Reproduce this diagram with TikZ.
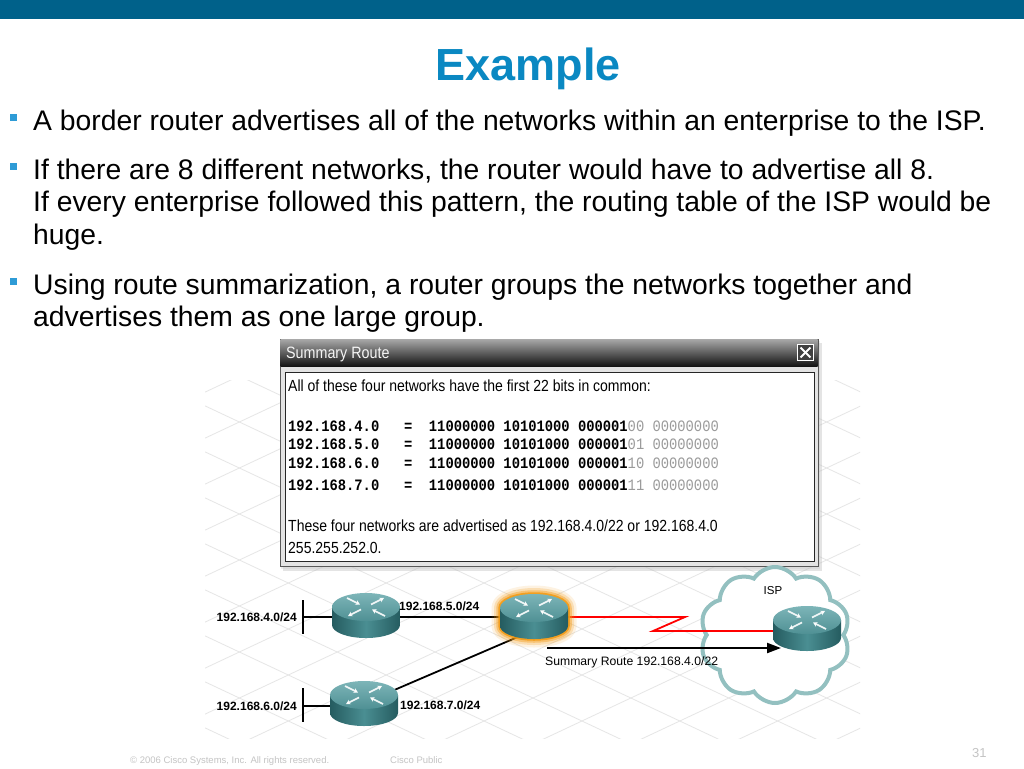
\documentclass[tikz,border=0pt]{standalone}
\usepackage{fontspec}
\setmainfont{Liberation Sans}
\newfontfamily\monof{Liberation Mono}
\usetikzlibrary{shapes.symbols,shadows,arrows.meta}
\definecolor{barblue}{HTML}{00618A}
\definecolor{titleblue}{HTML}{0A88C2}
\definecolor{bulletblue}{HTML}{2E9BD6}
\definecolor{rtopl}{HTML}{7DB5B8}
\definecolor{rtop}{HTML}{4F9094}
\definecolor{rside}{HTML}{4A8E92}
\definecolor{rdark}{HTML}{255C60}
\definecolor{cloudc}{HTML}{93C0C0}
\definecolor{gridc}{HTML}{E6E6E6}
\definecolor{bitgray}{HTML}{9A9A9A}
\definecolor{footgray}{HTML}{C4C4C4}
\definecolor{glow}{HTML}{F39A12}
\newcommand\dlg[1]{\scalebox{1}[1.15]{#1}}
\tikzset{
  bodytext/.style={anchor=base west, inner sep=0pt, text=black, font=\fontsize{28.3}{32}\selectfont},
  dtext/.style={anchor=base west, inner sep=0pt, font=\fontsize{14}{16}\selectfont},
  mtext/.style={anchor=base west, inner sep=0pt, font=\monof\bfseries\fontsize{13.8}{16}\selectfont},
  lab/.style={inner sep=0pt, font=\bfseries\fontsize{12}{14}\selectfont},
  foot/.style={anchor=base west, inner sep=0pt, text=footgray, font=\fontsize{9.5}{11}\selectfont},
  wire/.style={line width=1.8pt, black},
  rarrow/.style={white, opacity=0.9, line width=1.7pt, -{Stealth[length=4.5pt,width=5pt]}},
  routerbody/.pic={
    \path[left color=rdark, right color=rdark, middle color=rside]
      (-34,-8) -- (-34,10) arc[start angle=180,end angle=360,x radius=34pt,y radius=13pt] -- (34,-8) -- cycle;
    \path[top color=rtopl, bottom color=rtop] (0,-8) ellipse[x radius=34pt, y radius=14pt];
    \draw[rarrow] (-19,-17) -- (-6,-10.5);
    \draw[rarrow] (19,1) -- (6,-5.5);
    \draw[rarrow] (5,-10.5) -- (18,-17);
    \draw[rarrow] (-5,-5.5) -- (-18,1);
    \node[inner sep=0pt, minimum width=68pt, minimum height=45pt] (-n) at (0,0.5) {};
  },
  routerglow/.pic={
    \foreach \w/\o in {17/0.12, 12/0.22, 7.5/0.4, 3.5/0.85}{
      \draw[glow, line width=\w pt, opacity=\o, line join=round]
        (-34,-8) arc[start angle=180,end angle=0,x radius=34pt,y radius=14pt]
        -- (34,10) arc[start angle=0,end angle=-180,x radius=34pt,y radius=13pt] -- cycle;
    }
  }
}
\begin{document}
\begin{tikzpicture}[x=1pt,y=-1pt]
\useasboundingbox (0,0) rectangle (1024,768);
\fill[white] (0,0) rectangle (1024,768);
\fill[barblue] (0,0) rectangle (1024,19);

% title
\node[anchor=base, inner sep=0pt, text=titleblue, font=\bfseries\fontsize{45}{50}\selectfont] (title) at (528,80) {Example};

% bullets
\fill[bulletblue] (10,114) rectangle (17,121);
\fill[bulletblue] (10,163) rectangle (17,170);
\fill[bulletblue] (10,278) rectangle (17,285);
\node[bodytext] (b1) at (33,130) {A border router advertises all of the networks within an enterprise to the ISP.};
\node[bodytext] (b2a) at (33,179) {If there are 8 different networks, the router would have to advertise all 8.};
\node[bodytext] (b2b) at (33,211) {If every enterprise followed this pattern, the routing table of the ISP would be};
\node[bodytext] (b2c) at (33,244) {huge.};
\node[bodytext] (b3a) at (33,294) {Using route summarization, a router groups the networks together and};
\node[bodytext] (b3b) at (33,326) {advertises them as one large group.};

% grid
\begin{scope}
\clip (205,380) rectangle (860,738);
\foreach \c in {-12,...,12}{
  \draw[gridc, line width=0.8pt] (150,{380+46*\c}) -- (900,{380+46*\c+0.47*750});
  \draw[gridc, line width=0.8pt] (150,{740+46*\c}) -- (900,{740+46*\c-0.47*750});
}
\end{scope}

% dialog
\fill[gray!60, opacity=0.35] (283,343) rectangle (822,571);
\fill[gray!40, opacity=0.35] (281,341) rectangle (820,569);
\path[draw=gray!70!black, line width=0.8pt, fill=gray!22] (280,339) rectangle (818,566);
\path[top color=gray!70, bottom color=black!92] (280.5,339.5) rectangle (817.5,366);
\node[anchor=base west, inner sep=0pt, text=gray!8, font=\fontsize{14.3}{16}\selectfont] (dtitle) at (286,358) {\dlg{Summary Route}};
\node[draw=white, line width=0.9pt, fill=black!75, minimum width=16pt, minimum height=16pt, inner sep=0pt] (close) at (805.5,352.5) {};
\draw[white, line width=1.8pt] ([shift={(3.5pt,-3.5pt)}]close.north west) -- ([shift={(-3.5pt,3.5pt)}]close.south east);
\draw[white, line width=1.8pt] ([shift={(-3.5pt,-3.5pt)}]close.north east) -- ([shift={(3.5pt,3.5pt)}]close.south west);
\path[draw=black!85, line width=1pt, fill=white] (285,372) rectangle (814,561);

\node[dtext] (d1) at (288,391) {\dlg{All of these four networks have the first 22 bits in common:}};
\node[mtext] (m1) at (288,431) {\dlg{192.168.4.0~~~=~~11000000~10101000~000001{\mdseries\color{bitgray}00~00000000}}};
\node[mtext] (m2) at (288,449) {\dlg{192.168.5.0~~~=~~11000000~10101000~000001{\mdseries\color{bitgray}01~00000000}}};
\node[mtext] (m3) at (288,468) {\dlg{192.168.6.0~~~=~~11000000~10101000~000001{\mdseries\color{bitgray}10~00000000}}};
\node[mtext] (m4) at (288,490) {\dlg{192.168.7.0~~~=~~11000000~10101000~000001{\mdseries\color{bitgray}11~00000000}}};
\node[dtext] (d2) at (288,531) {\dlg{These four networks are advertised as 192.168.4.0/22 or 192.168.4.0}};
\node[dtext] (d3) at (288,553) {\dlg{255.255.252.0.}};

% cloud
\node[cloud, cloud puffs=10, cloud puff arc=115, aspect=1.1, draw=cloudc, line width=4pt, fill=white, minimum width=150pt, minimum height=136pt] (cloud) at (775,635) {};
\node[inner sep=0pt, font=\fontsize{11.5}{13}\selectfont] (isplab) at (773,591) {ISP};

% coordinates for wires
\coordinate (r1c) at (366,615);
\coordinate (r2c) at (534,616);
\coordinate (r3c) at (364,703);
\coordinate (ispc) at (807,628);
\coordinate (bar1t) at (303,600);
\coordinate (bar1b) at (303,634);
\coordinate (bar3t) at (303,688);
\coordinate (bar3b) at (303,722);
\coordinate (z1) at (685,617);
\coordinate (z2) at (653,631);
\coordinate (sumA) at (547,648);
\coordinate (sumB) at (781,648);
\coordinate (r2low) at (534,630);

% wires
\draw[line width=2.4pt] (bar1t) -- (bar1b);
\draw[line width=2.4pt] (bar3t) -- (bar3b);
\draw[wire] (bar1t |- 0,617) -- (r1c |- 0,617) -- (r2c |- 0,617);
\draw[wire] (bar3t |- 0,706) -- (r3c |- 0,706);
\draw[wire] (r3c) -- (r2low);
\draw[red, line width=1.8pt, line join=miter] (r2c |- z1) -- (z1) -- (z2) -- (z2 -| ispc);
\draw[line width=2.2pt, -{Triangle[length=14pt,width=10pt]}] (sumA) -- (sumB);

% routers
\pic at (r2c) {routerglow};
\pic (r1) at (r1c) {routerbody};
\pic (r2) at (r2c) {routerbody};
\pic (r3) at (r3c) {routerbody};
\pic (isp) at (ispc) {routerbody};

% labels
\node[lab, anchor=east] (l4) at (297,617) {192.168.4.0/24};
\node[lab, anchor=west] (l5) at (399,606) {192.168.5.0/24};
\node[lab, anchor=east] (l6) at (297,706) {192.168.6.0/24};
\node[lab, anchor=west] (l7) at (400,705) {192.168.7.0/24};
\node[anchor=west, inner sep=0pt, font=\fontsize{12.2}{14}\selectfont] (sumlab) at (545,662) {Summary Route 192.168.4.0/22};

% footer
\node[foot] (f1) at (130,763) {© 2006 Cisco Systems, Inc. All rights reserved.};
\node[foot] (f2) at (390,763) {Cisco Public};
\node[foot, font=\fontsize{13}{15}\selectfont] (f3) at (972,757) {31};
\end{tikzpicture}
\end{document}
